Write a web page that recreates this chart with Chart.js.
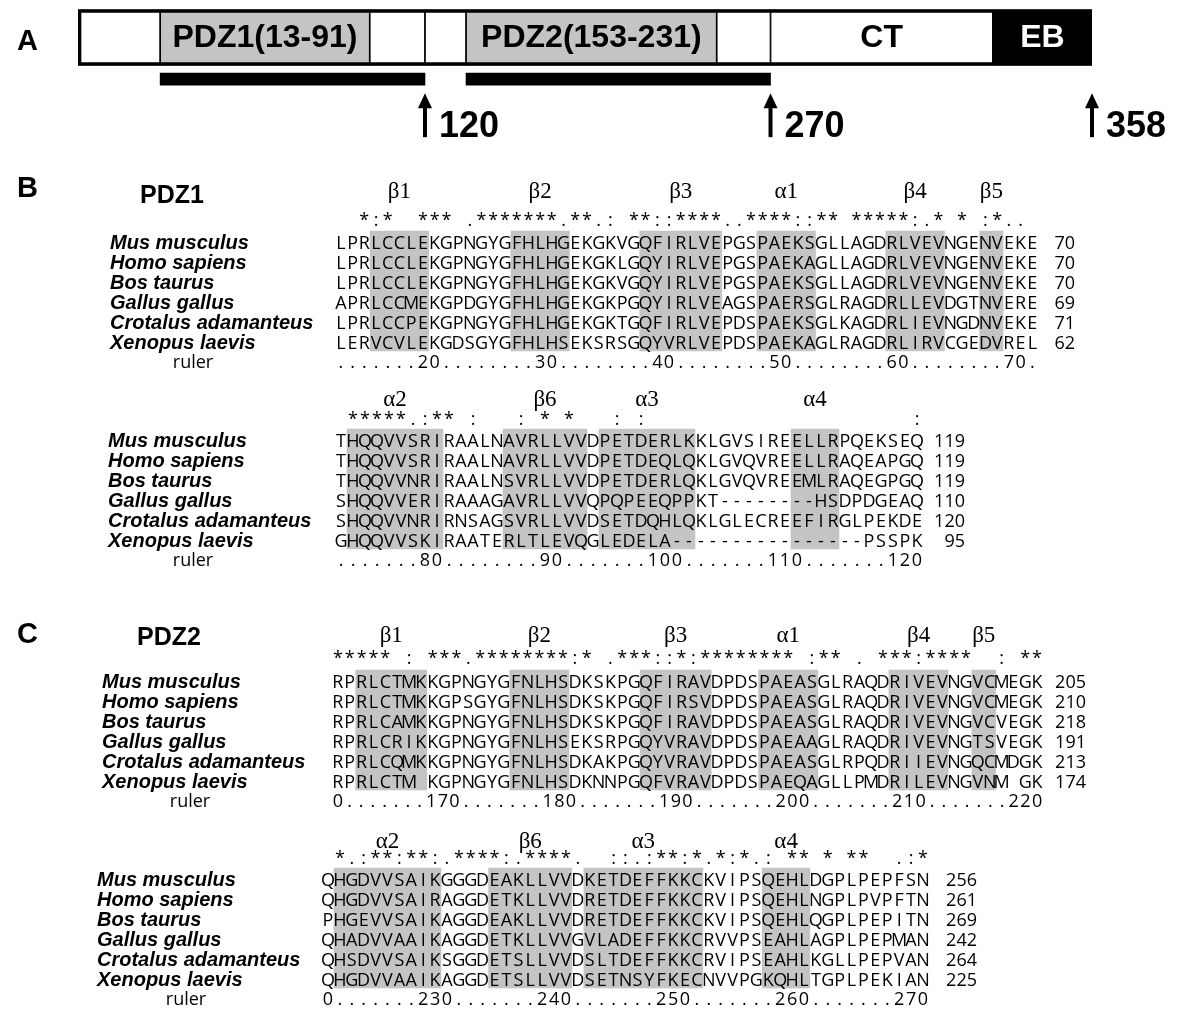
<!DOCTYPE html>
<html>
<head>
<meta charset="utf-8">
<script src="https://cdn.jsdelivr.net/npm/chart.js@4.4.0/dist/chart.umd.min.js"></script>
<style>
  html, body { margin: 0; padding: 0; background: #fff; }
  #fig { position: relative; width: 1181px; height: 1013px; overflow: hidden; background: #fff; }
  #fig canvas { position: absolute; left: 0; }
</style>
</head>
<body>
<div id="fig"></div>
<script>
// ─── data ────────────────────────────────────────────────────────────────────

const SPECIES = ['Mus musculus', 'Homo sapiens', 'Bos taurus', 'Gallus gallus', 'Crotalus adamanteus', 'Xenopus laevis'];

// panel A: domain map (schematic axis, not drawn to scale)
const DOMAIN_LABELS = ['', 'PDZ1(13-91)', '', '', 'PDZ2(153-231)', '', 'CT', 'EB'];
const DOMAIN_KIND   = ['plain', 'pdz', 'plain', 'plain', 'pdz', 'plain', 'plain', 'eb'];
const DOMAIN_EDGES  = [0, 29, 103, 122.5, 137, 225.5, 244.5, 323, 358];
const CONSTRUCTS    = [[29, 122.5], [137, 244.5]];
const CUT_POS       = [122.5, 244.5, 358];
const CUT_LABELS    = ['120', '270', '358'];

// PDZ1, first line of the alignment
const PDZ1_SEQ_A = [
  'LPRLCCLEKGPNGYGFHLHGEKGKVGQFIRLVEPGSPAEKSGLLAGDRLVEVNGENVEKE',
  'LPRLCCLEKGPNGYGFHLHGEKGKLGQYIRLVEPGSPAEKAGLLAGDRLVEVNGENVEKE',
  'LPRLCCLEKGPNGYGFHLHGEKGKVGQYIRLVEPGSPAEKSGLLAGDRLVEVNGENVEKE',
  'APRLCCMEKGPDGYGFHLHGEKGKPGQYIRLVEAGSPAERSGLRAGDRLLEVDGTNVERE',
  'LPRLCCPEKGPNGYGFHLHGEKGKTGQFIRLVEPDSPAEKSGLKAGDRLIEVNGDNVEKE',
  'LERVCVLEKGDSGYGFHLHSEKSRSGQYVRLVEPDSPAEKAGLRAGDRLIRVCGEDVREL',
];
const PDZ1_END_A   = [70, 70, 70, 69, 71, 62];
const PDZ1_CONS_A  = '  *:*  *** .*******.**.: **::****..****::** *****:.* * :*.. ';
const PDZ1_RULER_A = '.......20........30........40........50........60........70.';
const PDZ1_SS_A    = ['β1', 'β2', 'β3', 'α1', 'β4', 'β5'];
const PDZ1_BOX_A   = [[3, 7], [15, 19], [26, 32], [36, 40], [47, 51], [55, 56]];

// PDZ1, second line
const PDZ1_SEQ_B = [
  'THQQVVSRIRAALNAVRLLVVDPETDERLKKLGVSIREELLRPQEKSEQ',
  'THQQVVSRIRAALNAVRLLVVDPETDEQLQKLGVQVREELLRAQEAPGQ',
  'THQQVVNRIRAALNSVRLLVVDPETDERLQKLGVQVREEMLRAQEGPGQ',
  'SHQQVVERIRAAAGAVRLLVVQPQPEEQPPKT--------HSDPDGEAQ',
  'SHQQVVNRIRNSAGSVRLLVVDSETDQHLQKLGLECREEFIRGLPEKDE',
  'GHQQVVSKIRAATERLTLEVQGLEDELA----------------PSSPK',
];
const PDZ1_END_B   = [119, 119, 119, 110, 120, 95];
const PDZ1_CONS_B  = ' *****.:** :   : * *   : :                      :';
const PDZ1_RULER_B = '.......80........90.......100.......110.......120';
const PDZ1_SS_B    = ['α2', 'β6', 'α3', 'α4'];
const PDZ1_BOX_B   = [[1, 8], [14, 20], [22, 29], [38, 41]];

// PDZ2, first line
const PDZ2_SEQ_A = [
  'RPRLCTMKKGPNGYGFNLHSDKSKPGQFIRAVDPDSPAEASGLRAQDRIVEVNGVCMEGK',
  'RPRLCTMKKGPSGYGFNLHSDKSKPGQFIRSVDPDSPAEASGLRAQDRIVEVNGVCMEGK',
  'RPRLCAMKKGPNGYGFNLHSDKSKPGQFIRAVDPDSPAEASGLRAQDRIVEVNGVCVEGK',
  'RPRLCRIKKGPNGYGFNLHSEKSRPGQYVRAVDPDSPAEAAGLRAQDRIVEVNGTSVEGK',
  'RPRLCQMKKGPNGYGFNLHSDKAKPGQYVRAVDPDSPAEASGLRPQDRIIEVNGQCMDGK',
  'RPRLCTM KGPNGYGFNLHSDKNNPGQFVRAVDPDSPAEQAGLLPMDRILEVNGVNM GK',
];
const PDZ2_END_A   = [205, 210, 218, 191, 213, 174];
const PDZ2_CONS_A  = '***** : ***.********:* .***::*:******** :** . ***:****  : **';
const PDZ2_RULER_A = '0.......170.......180.......190.......200.......210.......220';
const PDZ2_SS_A    = ['β1', 'β2', 'β3', 'α1', 'β4', 'β5'];
const PDZ2_BOX_A   = [[2, 7], [15, 19], [26, 31], [36, 40], [47, 51], [54, 55]];

// PDZ2, second line
const PDZ2_SEQ_B = [
  'QHGDVVSAIKGGGDEAKLLVVDKETDEFFKKCKVIPSQEHLDGPLPEPFSN',
  'QHGDVVSAIRAGGDETKLLVVDRETDEFFKKCRVIPSQEHLNGPLPVPFTN',
  'PHGEVVSAIKAGGDEAKLLVVDRETDEFFKKCKVIPSQEHLQGPLPEPITN',
  'QHADVVAAIKAGGDETKLLVVGVLADEFFKKCRVVPSEAHLAGPLPEPMAN',
  'QHSDVVSAIKSGGDETSLLVVDSLTDEFFKKCRVIPSEAHLKGLLPEPVAN',
  'QHGDVVAAIKAGGDETSLLVVDSETNSYFKECNVVPGKQHLTGPLPEKIAN',
];
const PDZ2_END_B   = [256, 261, 269, 242, 264, 225];
const PDZ2_CONS_B  = ' *.:**:**:.****:.****.  ::.:**:*.*:*.: ** * **  .:*';
const PDZ2_RULER_B = '0.......230.......240.......250.......260.......270';
const PDZ2_SS_B    = ['α2', 'β6', 'α3', 'α4'];
const PDZ2_BOX_B   = [[1, 9], [14, 20], [22, 31], [37, 40]];

// ─── styles ──────────────────────────────────────────────────────────────────

const W = 1181;
const INK = '#000';
const SHADE = '#c4c4c4';
const SEQ_FONT = '18px "Open Sans"';
const NAME_FONT = 'italic bold 20px "Liberation Sans"';
const SS_FONT = '23px "Liberation Serif"';
const HEAD_FONT = 'bold 25px "Liberation Sans"';
const PANEL_FONT = 'bold 29px "Liberation Sans"';
const ROW_H = 20;
const BLK_H = 200;
const Y_MIN = -3.5;
const BOX_MID = 2.45;

const fig = document.getElementById('fig');

function addCanvas(top, h) {
  const c = document.createElement('canvas');
  c.width = W; c.height = h;
  c.style.top = top + 'px';
  c.style.width = W + 'px'; c.style.height = h + 'px';
  fig.appendChild(c);
  return c;
}

const baseOpts = {
  responsive: false, animation: false, devicePixelRatio: 1,
  plugins: { legend: { display: false }, tooltip: { enabled: false } },
};

// ─── panel A ────────────────────────────────────────────────────────────────

const FILL = { plain: '#ffffff', pdz: SHADE, eb: '#000000' };

const domainText = {
  id: 'domainText',
  afterDatasetsDraw(chart) {
    const { ctx, scales: { x, y } } = chart;
    ctx.save();
    ctx.font = PANEL_FONT;
    ctx.fillStyle = '#000';
    ctx.textAlign = 'left';
    ctx.textBaseline = 'alphabetic';
    ctx.fillText('A', 17, 50);

    ctx.font = 'bold 32px "Liberation Sans"';
    ctx.textAlign = 'center';
    ctx.textBaseline = 'middle';
    DOMAIN_LABELS.forEach((lab, i) => {
      if (!lab) return;
      const cx = x.getPixelForValue((DOMAIN_EDGES[i] + DOMAIN_EDGES[i + 1]) / 2);
      ctx.fillStyle = DOMAIN_KIND[i] === 'eb' ? '#fff' : '#000';
      ctx.fillText(lab, cx, y.getPixelForValue(0) + 1);
    });

    // truncation arrows
    const yBar = y.getPixelForValue(1);
    ctx.fillStyle = '#000';
    ctx.strokeStyle = '#000';
    CUT_POS.forEach((pos, i) => {
      const px = x.getPixelForValue(pos);
      const tip = yBar + 14, base = yBar + 58;
      ctx.lineWidth = 4;
      ctx.beginPath(); ctx.moveTo(px, tip + 10); ctx.lineTo(px, base); ctx.stroke();
      ctx.beginPath();
      ctx.moveTo(px, tip); ctx.lineTo(px - 7, tip + 15); ctx.lineTo(px + 7, tip + 15);
      ctx.closePath(); ctx.fill();
      ctx.font = 'bold 36px "Liberation Sans"';
      ctx.textAlign = 'left';
      ctx.textBaseline = 'alphabetic';
      ctx.fillText(CUT_LABELS[i], px + 14, base);
    });
    ctx.restore();
  },
};

new Chart(addCanvas(0, 150), {
  type: 'bar',
  data: {
    datasets: [
      {
        data: [{ x: [DOMAIN_EDGES[0], DOMAIN_EDGES[DOMAIN_EDGES.length - 1]], y: 0 }],
        backgroundColor: 'rgba(0,0,0,0)', borderColor: '#000', borderWidth: 3,
        borderSkipped: false, barThickness: 56, grouped: false,
      },
      {
        data: DOMAIN_KIND.map((_, i) => ({ x: [DOMAIN_EDGES[i], DOMAIN_EDGES[i + 1]], y: 0 })),
        backgroundColor: DOMAIN_KIND.map(k => FILL[k]), borderColor: '#000', borderWidth: 1.2,
        borderSkipped: false, barThickness: 56, grouped: false,
      },
      {
        data: CONSTRUCTS.map(c => ({ x: c, y: 1 })),
        backgroundColor: '#000', borderWidth: 0, barThickness: 12, grouped: false,
      },
    ],
  },
  options: {
    ...baseOpts,
    indexAxis: 'y',
    layout: { padding: { left: 78, right: W - 1092, top: 0, bottom: 0 } },
    scales: {
      x: { type: 'linear', min: 0, max: 358, offset: false, display: false },
      y: { type: 'linear', min: -0.9, max: 2.7, reverse: true, offset: false, display: false },
    },
  },
  plugins: [domainText],
});

// ─── alignment blocks ───────────────────────────────────────────────────────

const BLOCKS = [
  { seq: PDZ1_SEQ_A, ends: PDZ1_END_A, cons: PDZ1_CONS_A, ruler: PDZ1_RULER_A, ss: PDZ1_SS_A, box: PDZ1_BOX_A,
    row0: 242, left: 335, pitch: 11.72, nameX: 110, numRight: 1075, rulerX: 193, ssRow: -2.5, consRow: -1.1,
    panel: 'B', title: 'PDZ1', panelY: -45, titleX: 140, titleY: -39 },
  { seq: PDZ1_SEQ_B, ends: PDZ1_END_B, cons: PDZ1_CONS_B, ruler: PDZ1_RULER_B, ss: PDZ1_SS_B, box: PDZ1_BOX_B,
    row0: 440, left: 335, pitch: 12.0, nameX: 108, numRight: 965, rulerX: 193, ssRow: -2.0, consRow: -1.05 },
  { seq: PDZ2_SEQ_A, ends: PDZ2_END_A, cons: PDZ2_CONS_A, ruler: PDZ2_RULER_A, ss: PDZ2_SS_A, box: PDZ2_BOX_A,
    row0: 681, left: 332, pitch: 11.85, nameX: 102, numRight: 1086, rulerX: 190, ssRow: -2.25, consRow: -1.15,
    panel: 'C', title: 'PDZ2', panelY: -38, titleX: 137, titleY: -36 },
  { seq: PDZ2_SEQ_B, ends: PDZ2_END_B, cons: PDZ2_CONS_B, ruler: PDZ2_RULER_B, ss: PDZ2_SS_B, box: PDZ2_BOX_B,
    row0: 879, left: 322, pitch: 11.9, nameX: 97, numRight: 977, rulerX: 186, ssRow: -1.85, consRow: -1.05 },
];

function alignText(blk) {
  const n = blk.seq[0].length;
  return {
    id: 'alignText',
    afterDatasetsDraw(chart) {
      const { ctx, scales: { x, y } } = chart;
      ctx.save();
      ctx.fillStyle = INK;

      if (blk.panel) {
        const y0 = y.getPixelForValue(0);
        ctx.textAlign = 'left'; ctx.textBaseline = 'alphabetic';
        ctx.font = PANEL_FONT;
        ctx.fillText(blk.panel, 17, y0 + blk.panelY);
        ctx.font = HEAD_FONT;
        ctx.fillText(blk.title, blk.titleX, y0 + blk.titleY);
      }

      // secondary structure labels over the shaded boxes
      ctx.font = SS_FONT; ctx.textAlign = 'center'; ctx.textBaseline = 'middle';
      blk.ss.forEach((lab, i) => {
        const [s, e] = blk.box[i];
        ctx.fillText(lab, x.getPixelForValue((s + e) / 2), y.getPixelForValue(blk.ssRow));
      });

      ctx.font = SEQ_FONT; ctx.textBaseline = 'alphabetic';
      // conservation line
      [...blk.cons].forEach((c, i) => {
        if (c !== ' ') ctx.fillText(c, x.getPixelForValue(i), y.getPixelForValue(blk.consRow) + 6);
      });

      // sequences, names, end numbers
      blk.seq.forEach((s, r) => {
        const yy = y.getPixelForValue(r) + 6.5;
        ctx.font = SEQ_FONT; ctx.textAlign = 'center';
        [...s].forEach((c, i) => { if (c !== ' ') ctx.fillText(c, x.getPixelForValue(i), yy); });
        ctx.textAlign = 'right';
        ctx.fillText(String(blk.ends[r]), blk.numRight, yy);
        ctx.font = NAME_FONT; ctx.textAlign = 'left';
        ctx.fillText(SPECIES[r], blk.nameX, yy);
      });

      // ruler
      const yr = y.getPixelForValue(blk.seq.length) + 6;
      ctx.font = SEQ_FONT; ctx.textAlign = 'center';
      ctx.fillText('ruler', blk.rulerX, yr);
      const len = blk.ruler.length;
      const step = len > n ? (n - 1) / (len - 1) : 1;
      [...blk.ruler].forEach((c, i) => ctx.fillText(c, x.getPixelForValue(i * step), yr));
      ctx.restore();
    },
  };
}

BLOCKS.forEach(blk => {
  const n = blk.seq[0].length;
  const top = blk.row0 + Y_MIN * ROW_H;
  new Chart(addCanvas(top, BLK_H), {
    type: 'bar',
    data: {
      datasets: [{
        data: blk.box.map(([s, e]) => ({ x: [s - 0.5, e + 0.5], y: BOX_MID })),
        backgroundColor: SHADE, borderWidth: 0,
        barThickness: blk.seq.length * ROW_H, grouped: false,
      }],
    },
    options: {
      ...baseOpts,
      indexAxis: 'y',
      layout: { padding: { left: blk.left, right: W - blk.left - n * blk.pitch, top: 0, bottom: 0 } },
      scales: {
        x: { type: 'linear', min: -0.5, max: n - 0.5, offset: false, display: false },
        y: { type: 'linear', min: Y_MIN, max: Y_MIN + BLK_H / ROW_H, reverse: true, offset: false, display: false },
      },
    },
    plugins: [alignText(blk)],
  });
});
</script>
</body>
</html>
